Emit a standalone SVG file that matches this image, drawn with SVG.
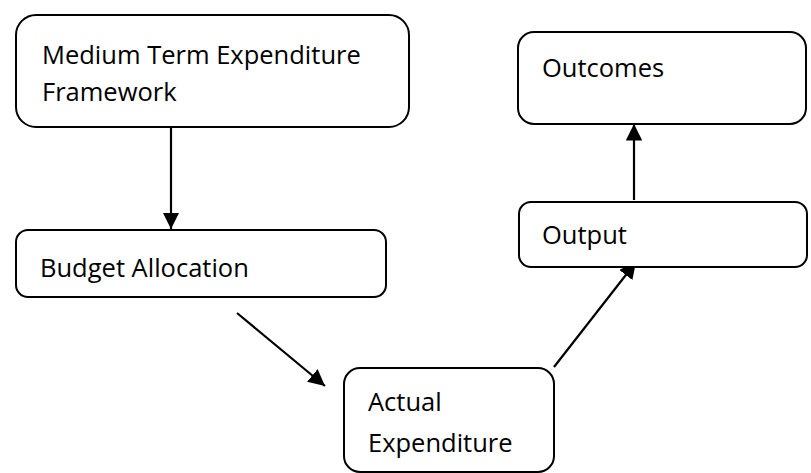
<svg xmlns="http://www.w3.org/2000/svg" width="811" height="473" viewBox="0 0 811 473">
<defs>
<style>
.box{fill:#fff;stroke:#000;stroke-width:2}
.t{font-family:"Open Sans","Noto Sans",sans-serif;font-size:25.5px;fill:#000}
.c{stroke:#000;stroke-width:2.2;fill:none}
</style>
<marker id="ah" viewBox="0 0 10 10" refX="10" refY="5" markerWidth="7.5" markerHeight="7.5" markerUnits="strokeWidth" orient="auto">
<path d="M0,0 L10,5 L0,10 z" fill="#000"/>
</marker>
</defs>
<rect width="811" height="473" fill="#fff"/>
<g id="connectors">
<line class="c" x1="171" y1="127" x2="171" y2="229" marker-end="url(#ah)"/>
<line class="c" x1="237" y1="313" x2="325" y2="386" marker-end="url(#ah)"/>
<line class="c" x1="554" y1="367" x2="636" y2="262" marker-end="url(#ah)"/>
<line class="c" x1="634" y1="200" x2="634" y2="124" marker-end="url(#ah)"/>
</g>
<g id="mtef">
<rect class="box" x="16" y="15" width="393" height="112" rx="20"/>
<text class="t" x="42" y="64">Medium Term Expenditure</text>
<text class="t" x="42" y="101">Framework</text>
</g>
<g id="budget">
<rect class="box" x="16" y="230" width="370" height="67" rx="12"/>
<text class="t" x="40" y="277">Budget Allocation</text>
</g>
<g id="actual">
<rect class="box" x="344" y="368" width="210" height="104" rx="16"/>
<text class="t" x="368" y="411">Actual</text>
<text class="t" x="368" y="452">Expenditure</text>
</g>
<g id="output">
<rect class="box" x="519" y="202" width="288" height="65" rx="12"/>
<text class="t" x="542" y="244">Output</text>
</g>
<g id="outcomes">
<rect class="box" x="518" y="32" width="288" height="92" rx="16"/>
<text class="t" x="542" y="77">Outcomes</text>
</g>
</svg>
